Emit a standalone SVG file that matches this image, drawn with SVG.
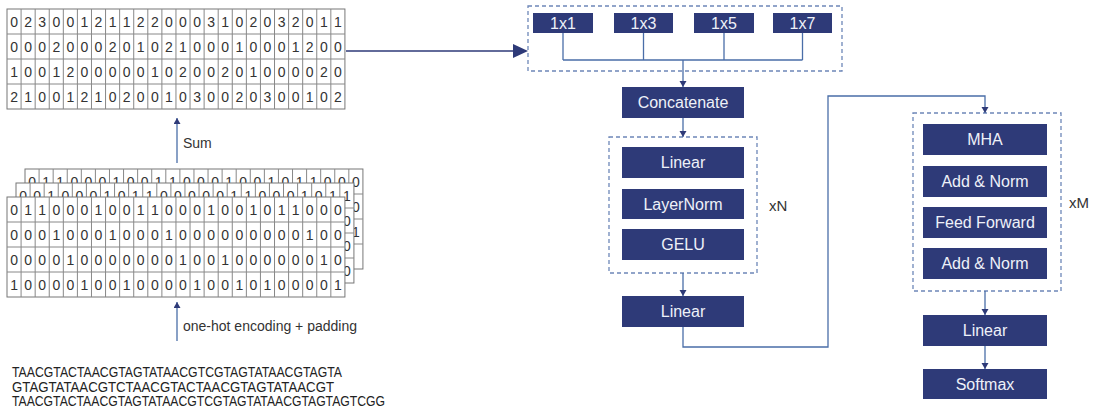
<svg xmlns="http://www.w3.org/2000/svg" xmlns:xlink="http://www.w3.org/1999/xlink" width="1095" height="412" viewBox="0 0 1095 412">
<style>
.cellt{font-family:"Liberation Sans",Arial,sans-serif;font-size:14px;fill:#333;text-anchor:middle}
.box{fill:#2e3a78}
.bt{font-family:"Liberation Sans",Arial,sans-serif;font-size:16px;fill:#eef1f8;text-anchor:middle}
.lbl{font-family:"Liberation Sans",Arial,sans-serif;font-size:14px;fill:#333}
.dna{font-family:"Liberation Sans",Arial,sans-serif;font-size:14px;fill:#222}
.dash{fill:none;stroke:#6d87b8;stroke-width:1.3;stroke-dasharray:4 3}
.con{fill:none;stroke:#4a6ea8;stroke-width:1.3}
.gl{stroke:#888;stroke-width:1;fill:none}
</style>
<defs>
<marker id="ah" markerUnits="userSpaceOnUse" markerWidth="8" markerHeight="8" refX="6" refY="3.5" orient="auto">
<path d="M0,0 L6,3.5 L0,7 z" fill="#2e3a78"/>
</marker>
<g id="grid">
<rect x="0" y="0" width="337.92" height="100" fill="#fff" stroke="#777" stroke-width="1"/>
<path class="gl" d="M14.08,0V100M28.16,0V100M42.24,0V100M56.32,0V100M70.4,0V100M84.48,0V100M98.56,0V100M112.64,0V100M126.72,0V100M140.8,0V100M154.88,0V100M168.96,0V100M183.04,0V100M197.12,0V100M211.2,0V100M225.28,0V100M239.36,0V100M253.44,0V100M267.52,0V100M281.6,0V100M295.68,0V100M309.76,0V100M323.84,0V100M0,25H337.92M0,50H337.92M0,75H337.92"/>
</g>
</defs>
<rect width="1095" height="412" fill="#fff"/>

<!-- summed matrix -->
<g id="sum-matrix" transform="translate(7,9)">
<use xlink:href="#grid"/>
<text class="cellt" y="17.5" x="7.04 21.12 35.2 49.28 63.36 77.44 91.52 105.6 119.68 133.76 147.84 161.92 176 190.08 204.16 218.24 232.32 246.4 260.48 274.56 288.64 302.72 316.8 330.88">023001211220003102032011</text>
<text class="cellt" y="42.5" x="7.04 21.12 35.2 49.28 63.36 77.44 91.52 105.6 119.68 133.76 147.84 161.92 176 190.08 204.16 218.24 232.32 246.4 260.48 274.56 288.64 302.72 316.8 330.88">000200020102100010001200</text>
<text class="cellt" y="67.5" x="7.04 21.12 35.2 49.28 63.36 77.44 91.52 105.6 119.68 133.76 147.84 161.92 176 190.08 204.16 218.24 232.32 246.4 260.48 274.56 288.64 302.72 316.8 330.88">100120000010200201000020</text>
<text class="cellt" y="92.5" x="7.04 21.12 35.2 49.28 63.36 77.44 91.52 105.6 119.68 133.76 147.84 161.92 176 190.08 204.16 218.24 232.32 246.4 260.48 274.56 288.64 302.72 316.8 330.88">210012102001030020300102</text>
</g>

<!-- one-hot stack -->
<g id="onehot-back" transform="translate(25,169)">
<use xlink:href="#grid"/>
<text class="cellt" y="17.5" x="7.04 21.12 35.2 49.28 63.36 77.44 91.52 105.6 119.68 133.76 147.84 161.92 176 190.08 204.16 218.24 232.32 246.4 260.48 274.56 288.64 302.72 316.8 330.88">011000100110001001011000</text>
<text class="cellt" x="330.88" y="42.5">0</text>
<text class="cellt" x="330.88" y="67.5">1</text>
</g>
<g id="onehot-mid" transform="translate(16,183)">
<use xlink:href="#grid"/>
<text class="cellt" y="17.5" x="7.04 21.12 35.2 49.28 63.36 77.44 91.52 105.6 119.68 133.76 147.84 161.92 176 190.08 204.16 218.24 232.32 246.4 260.48 274.56 288.64 302.72 316.8 330.88">001000101100000110001011</text>
<text class="cellt" x="330.88" y="42.5">0</text>
<text class="cellt" x="330.88" y="67.5">0</text>
<text class="cellt" x="330.88" y="92.5">0</text>
</g>
<g id="onehot-front" transform="translate(7,197)">
<use xlink:href="#grid"/>
<text class="cellt" y="17.5" x="7.04 21.12 35.2 49.28 63.36 77.44 91.52 105.6 119.68 133.76 147.84 161.92 176 190.08 204.16 218.24 232.32 246.4 260.48 274.56 288.64 302.72 316.8 330.88">011000100110001001011000</text>
<text class="cellt" y="42.5" x="7.04 21.12 35.2 49.28 63.36 77.44 91.52 105.6 119.68 133.76 147.84 161.92 176 190.08 204.16 218.24 232.32 246.4 260.48 274.56 288.64 302.72 316.8 330.88">000100010001000000000100</text>
<text class="cellt" y="67.5" x="7.04 21.12 35.2 49.28 63.36 77.44 91.52 105.6 119.68 133.76 147.84 161.92 176 190.08 204.16 218.24 232.32 246.4 260.48 274.56 288.64 302.72 316.8 330.88">000010000000100100000010</text>
<text class="cellt" y="92.5" x="7.04 21.12 35.2 49.28 63.36 77.44 91.52 105.6 119.68 133.76 147.84 161.92 176 190.08 204.16 218.24 232.32 246.4 260.48 274.56 288.64 302.72 316.8 330.88">100001001000010010100001</text>
</g>

<!-- sequences -->
<g id="sequences">
<text class="dna" x="12" y="377" textLength="330" lengthAdjust="spacingAndGlyphs">TAACGTACTAACGTAGTATAACGTCGTAGTATAACGTAGTA</text>
<text class="dna" x="12" y="391.5" textLength="322" lengthAdjust="spacingAndGlyphs">GTAGTATAACGTCTAACGTACTAACGTAGTATAACGT</text>
<text class="dna" x="12" y="406" textLength="373" lengthAdjust="spacingAndGlyphs">TAACGTACTAACGTAGTATAACGTCGTAGTATAACGTAGTAGTCGG</text>
</g>

<!-- labels -->
<text id="lbl-sum" class="lbl" x="183" y="148">Sum</text>
<text id="lbl-onehot" class="lbl" x="183" y="331">one-hot encoding + padding</text>
<text id="lbl-xN" class="lbl" x="769" y="211" style="font-size:15px">xN</text>
<text id="lbl-xM" class="lbl" x="1069" y="208" style="font-size:15px">xM</text>

<!-- conv group -->
<g id="conv-group">
<rect class="dash" x="528" y="6" width="314" height="65"/>
</g>
<g id="k1"><rect class="box" x="533" y="13" width="60" height="20"/><text class="bt" x="563" y="29">1x1</text></g>
<g id="k3"><rect class="box" x="614" y="13" width="59" height="20"/><text class="bt" x="643.5" y="29">1x3</text></g>
<g id="k5"><rect class="box" x="694" y="13" width="60" height="20"/><text class="bt" x="724" y="29">1x5</text></g>
<g id="k7"><rect class="box" x="773" y="13" width="59" height="20"/><text class="bt" x="802.5" y="29">1x7</text></g>

<g id="concat"><rect class="box" x="622" y="87" width="122" height="31"/><text class="bt" x="683" y="108">Concatenate</text></g>

<g id="mlp-group"><rect class="dash" x="609" y="137" width="148" height="136"/></g>
<g id="linear1"><rect class="box" x="622" y="147" width="122" height="31"/><text class="bt" x="683" y="168">Linear</text></g>
<g id="layernorm"><rect class="box" x="622" y="189" width="122" height="30"/><text class="bt" x="683" y="209.5">LayerNorm</text></g>
<g id="gelu"><rect class="box" x="622" y="229" width="122" height="31"/><text class="bt" x="683" y="250">GELU</text></g>
<g id="linear2"><rect class="box" x="622" y="296" width="122" height="31"/><text class="bt" x="683" y="317">Linear</text></g>

<g id="transformer-group"><rect class="dash" x="913" y="113" width="148" height="178"/></g>
<g id="mha"><rect class="box" x="923" y="124" width="124" height="31"/><text class="bt" x="985" y="145">MHA</text></g>
<g id="addnorm1"><rect class="box" x="923" y="166" width="124" height="31"/><text class="bt" x="985" y="187">Add &amp; Norm</text></g>
<g id="ff"><rect class="box" x="923" y="207" width="124" height="31"/><text class="bt" x="985" y="228">Feed Forward</text></g>
<g id="addnorm2"><rect class="box" x="923" y="248" width="124" height="31"/><text class="bt" x="985" y="269">Add &amp; Norm</text></g>
<g id="linear3"><rect class="box" x="923" y="315" width="124" height="31"/><text class="bt" x="985" y="336">Linear</text></g>
<g id="softmax"><rect class="box" x="923" y="369" width="124" height="30"/><text class="bt" x="985" y="389.5">Softmax</text></g>

<!-- connectors -->
<g id="connectors">
<line x1="346" y1="51" x2="514" y2="51" stroke="#2e3a78" stroke-width="1.5"/>
<polygon points="513,44 528,51 513,58" fill="#2e3a78"/>
<line class="con" x1="177" y1="163" x2="177" y2="118" marker-end="url(#ah)"/>
<line class="con" x1="177" y1="341" x2="177" y2="302" marker-end="url(#ah)"/>
<path class="con" d="M563,33V60M643.5,33V60M724,33V60M802.5,33V60M563,60H802.5"/>
<line class="con" x1="683" y1="60" x2="683" y2="87" marker-end="url(#ah)"/>
<line class="con" x1="683" y1="118" x2="683" y2="137" marker-end="url(#ah)"/>
<line class="con" x1="683" y1="273" x2="683" y2="296" marker-end="url(#ah)"/>
<path class="con" d="M683,327V347H828V96H985V113" marker-end="url(#ah)"/>
<line class="con" x1="985" y1="291" x2="985" y2="315" marker-end="url(#ah)"/>
<line class="con" x1="985" y1="346" x2="985" y2="369" marker-end="url(#ah)"/>
</g>
</svg>
